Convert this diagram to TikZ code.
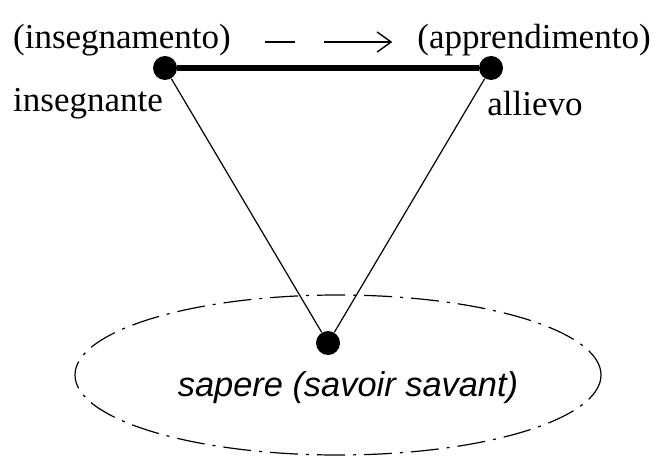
\documentclass[tikz,border=0pt]{standalone}
\usepackage{fontspec}
\setmainfont{Liberation Serif}
\newfontfamily\knowfont{Liberation Sans}
\usetikzlibrary{arrows.meta,positioning}
\definecolor{TriInk}{HTML}{000000}
\tikzset{
  every node/.style={font=\fontsize{17.5}{20}\selectfont, text=TriInk},
  pole/.style={circle, fill=TriInk, minimum size=12pt, inner sep=0pt},
  relation/.style={draw=TriInk, line width=2.8pt},
  side/.style={draw=TriInk, line width=0.6pt},
  knowledge/.style={draw=TriInk, line width=0.6pt, dash pattern=on 14pt off 4pt on 1.5pt off 4pt},
  flow/.style={-{Straight Barb[length=7pt,width=10pt]}, draw=TriInk, line width=0.7pt,
    dash pattern=on 15pt off 14.5pt on 40pt},
}

\begin{document}
\begin{tikzpicture}[x=0.5pt,y=-0.5pt]
  \useasboundingbox (0,0) rectangle (656,464);

  % Process labels with the direction arrow
  \node (teach) at (122,40) {(insegnamento)};
  \node (learn) at (534,40) {(apprendimento)};
  \draw[flow, shorten <=13.5pt, shorten >=9pt] ([yshift=-1pt]teach.east) -- ([yshift=-1pt]learn.west);

  % The three poles of the triangle
  \node[pole] (teacher) at (165,68) {};
  \node[pole] (pupil)   at (491,68) {};
  \node[pole] (know)    at (328,343) {};

  % Pole names
  \node (teachname) at (88,104) {insegnante};
  \node (pupilname) at (535,104) {allievo};

  % Sides
  \draw[relation] (teacher) -- (pupil);
  \draw[side] (teacher) -- (know);
  \draw[side] (pupil) -- (know);

  % Field of knowledge
  \draw[knowledge] (338,375) ellipse [x radius=263, y radius=80];
  \node[font=\knowfont\itshape\fontsize{17.2}{19}\selectfont] (knowname) at (348,388)
        {sapere (savoir savant)};
\end{tikzpicture}
\end{document}
